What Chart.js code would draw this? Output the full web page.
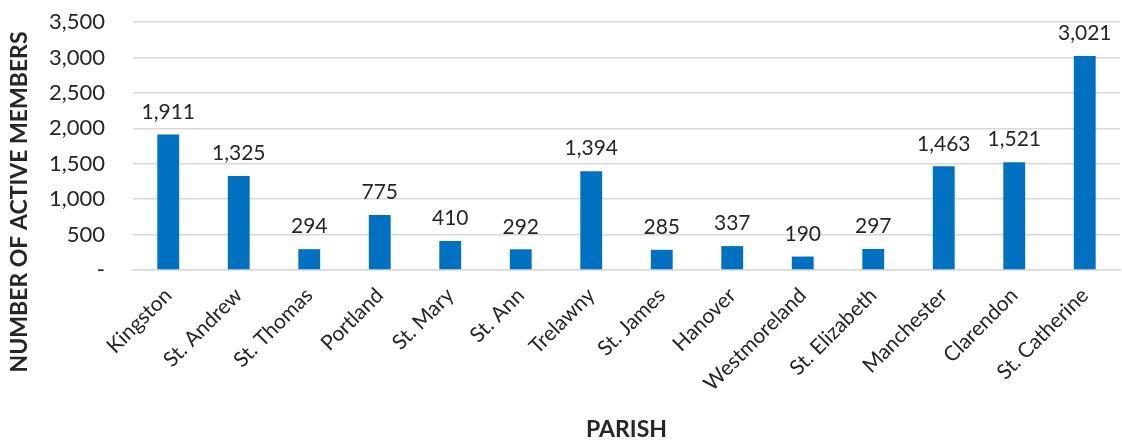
<!DOCTYPE html>
<html>
<head>
<meta charset="utf-8">
<script src="https://cdn.jsdelivr.net/npm/chart.js@4"></script>
<style>
  html, body { margin: 0; padding: 0; background: #fff; }
  #wrap { width: 1122px; height: 443px; }
</style>
</head>
<body>
<div id="wrap"><canvas id="chart"></canvas></div>
<script>
const parishes = ['Kingston', 'St. Andrew', 'St. Thomas', 'Portland', 'St. Mary', 'St. Ann', 'Trelawny',
  'St. James', 'Hanover', 'Westmoreland', 'St. Elizabeth', 'Manchester', 'Clarendon', 'St. Catherine'];
const activeMembers = [1911, 1325, 294, 775, 410, 292, 1394, 285, 337, 190, 297, 1463, 1521, 3021];
const yTitle = 'NUMBER OF ACTIVE MEMBERS';

const FONT = 'Lato, "Open Sans", sans-serif';
const fmt = (v) => v === 0 ? '-' : v.toLocaleString('en-US');

// value above each bar + the y title (centred on the whole canvas, like the original)
const extraText = {
  id: 'extraText',
  afterDatasetsDraw(chart) {
    const { ctx } = chart;
    const meta = chart.getDatasetMeta(0);
    ctx.save();
    ctx.font = '21px ' + FONT;
    ctx.fillStyle = '#262626';
    ctx.textAlign = 'center';
    ctx.textBaseline = 'bottom';
    meta.data.forEach((bar, i) => {
      ctx.fillText(fmt(activeMembers[i]), bar.x, bar.y - 12);
    });

    ctx.font = 'bold 23px ' + FONT;
    ctx.textBaseline = 'middle';
    ctx.translate(20, 202);
    ctx.rotate(-Math.PI / 2);
    ctx.fillText(yTitle, 0, 0);
    ctx.restore();
  }
};

new Chart(document.getElementById('chart'), {
  type: 'bar',
  data: {
    labels: parishes,
    datasets: [{
      data: activeMembers,
      backgroundColor: '#0070C0',
      barPercentage: 0.62,
      categoryPercentage: 0.5
    }]
  },
  options: {
    responsive: true,
    maintainAspectRatio: false,
    animation: false,
    layout: { padding: { top: 22, right: 2, left: 0, bottom: 0 } },
    plugins: {
      legend: { display: false },
      tooltip: { enabled: false }
    },
    scales: {
      x: {
        grid: { display: false, drawTicks: false },
        border: { color: '#d9d9d9', width: 1.5 },
        afterFit: (scale) => { scale.height = 173; },
        ticks: {
          color: '#262626',
          font: { family: FONT, size: 21 },
          maxRotation: 45,
          minRotation: 45,
          padding: 13
        },
        title: {
          display: true,
          text: 'PARISH',
          color: '#262626',
          font: { family: FONT, size: 23, weight: 'bold' },
          padding: { top: 4, bottom: 0 }
        }
      },
      y: {
        min: 0,
        max: 3500,
        // invisible tick marks keep the labels away from the plot without padding the top
        grid: { color: '#d9d9d9', lineWidth: 1.5, drawTicks: true, tickLength: 24, tickColor: 'rgba(0,0,0,0)' },
        border: { display: false },
        afterFit: (scale) => { scale.width = 133; },
        ticks: {
          stepSize: 500,
          color: '#262626',
          font: { family: FONT, size: 22 },
          padding: 4,
          callback: (v) => fmt(v)
        }
      }
    }
  },
  plugins: [extraText]
});
</script>
</body>
</html>
